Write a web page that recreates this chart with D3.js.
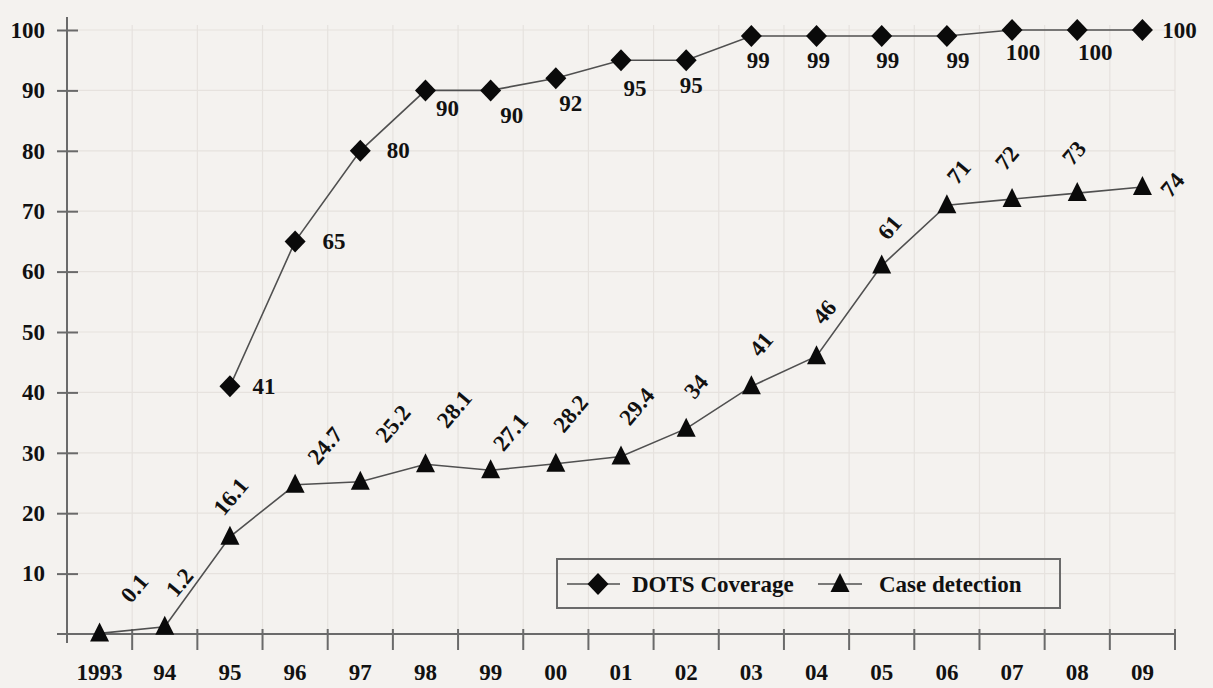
<!DOCTYPE html>
<html><head><meta charset="utf-8">
<script src="https://cdn.jsdelivr.net/npm/d3@7"></script>
<style>
html,body{margin:0;padding:0;background:#f4f2ef;}
svg{display:block;}
text{font-family:"Liberation Serif","Times New Roman",serif;font-weight:bold;fill:#111;}
</style></head>
<body>
<svg id="chart" width="1213" height="688"></svg>
<script>
const years = ["1993","94","95","96","97","98","99","00","01","02","03","04","05","06","07","08","09"];
const dotsCoverage = [null,null,41,65,80,90,90,92,95,95,99,99,99,99,100,100,100];
const caseDetection = [0.1,1.2,16.1,24.7,25.2,28.1,27.1,28.2,29.4,34,41,46,61,71,72,73,74];
const yTicks = [10,20,30,40,50,60,70,80,90,100];
const seriesNames = ["DOTS Coverage","Case detection"];
// label placement offsets (dx, dy) of label centre from the marker
const dotsLabelOffset = [null,null,[34,0],[39,0],[38,0],[22,18],[21,25],[15,25],[14,28],[5,25],[7,24],[2,24],[6,24],[11,24],[11,22],[18,22],[37,0]];
const caseLabelOffset = [[35,-45],[15,-44],[1,-40],[30,-39],[33,-58],[29,-55],[20,-38],[15,-50],[16,-50],[10,-42],[10,-42],[8,-44],[8,-38],[12,-33],[-5,-41],[-3,-40],[30,-2]];

const FS = "23px";
const svg = d3.select("#chart");
const x = d3.scaleBand().domain(years).range([67,1175]).paddingInner(0).paddingOuter(0);
const y = d3.scaleLinear().domain([0,100]).range([634,30]);
const cx = d => x(d) + x.bandwidth()/2;

// faint grid
const grid = svg.append("g").attr("stroke","#e6e2de").attr("stroke-width",1.2);
grid.selectAll(".h").data(yTicks).join("line")
  .attr("x1",67).attr("x2",1175).attr("y1",d=>y(d)).attr("y2",d=>y(d));
grid.selectAll(".v").data(years.slice(1).concat(["end"])).join("line")
  .attr("x1",(d,i)=> i<years.length-1 ? x(d) : 1175)
  .attr("x2",(d,i)=> i<years.length-1 ? x(d) : 1175)
  .attr("y1",y(100)-5).attr("y2",y(0));

// y axis
const yAxis = svg.append("g").attr("transform","translate(67,0)")
  .call(d3.axisLeft(y).tickValues(yTicks).tickSize(10).tickPadding(22));
yAxis.select(".domain").remove();
yAxis.selectAll(".tick line").attr("x1",-10).attr("x2",11).attr("stroke","#6a6a6a").attr("stroke-width",2);
yAxis.selectAll(".tick text").attr("x",-22).style("font-size",FS).style("font-family","Liberation Serif").style("font-weight","bold").attr("fill","#111");
svg.append("line").attr("x1",67).attr("x2",67).attr("y1",17).attr("y2",643)
  .attr("stroke","#6a6a6a").attr("stroke-width",2);

// x axis
const xAxis = svg.append("g").attr("transform","translate(0,634)")
  .call(d3.axisBottom(x).tickSize(0).tickPadding(30));
xAxis.select(".domain").remove();
xAxis.selectAll(".tick text").style("font-size",FS).style("font-family","Liberation Serif").style("font-weight","bold").attr("fill","#111");
svg.append("line").attr("x1",57).attr("x2",1175).attr("y1",634).attr("y2",634)
  .attr("stroke","#6a6a6a").attr("stroke-width",2);
svg.append("g").selectAll("line").data(years.slice(1).concat(["end"])).join("line")
  .attr("x1",(d,i)=> i<years.length-1 ? x(d) : 1175)
  .attr("x2",(d,i)=> i<years.length-1 ? x(d) : 1175)
  .attr("y1",629).attr("y2",650).attr("stroke","#6a6a6a").attr("stroke-width",2);

const diamond = "M0,-11L10.5,0L0,11L-10.5,0Z";
const triangle = "M0,-11L9.5,8L-9.5,8Z";

// lines
const dotsPts = years.map((d,i)=>({d,v:dotsCoverage[i],i})).filter(p=>p.v!=null);
const casePts = years.map((d,i)=>({d,v:caseDetection[i],i}));
const line = d3.line().x(p=>cx(p.d)).y(p=>y(p.v));
svg.append("path").attr("d",line(dotsPts)).attr("fill","none").attr("stroke","#505050").attr("stroke-width",1.6);
svg.append("path").attr("d",line(casePts)).attr("fill","none").attr("stroke","#505050").attr("stroke-width",1.6);

// markers
svg.append("g").selectAll("path").data(dotsPts).join("path")
  .attr("d",diamond).attr("transform",p=>`translate(${cx(p.d)},${y(p.v)})`).attr("fill","#0a0a0a");
svg.append("g").selectAll("path").data(casePts).join("path")
  .attr("d",triangle).attr("transform",p=>`translate(${cx(p.d)},${y(p.v)})`).attr("fill","#0a0a0a");

// labels
svg.append("g").selectAll("text").data(dotsPts).join("text")
  .attr("x",p=>cx(p.d)+dotsLabelOffset[p.i][0]).attr("y",p=>y(p.v)+dotsLabelOffset[p.i][1])
  .attr("text-anchor","middle").attr("dominant-baseline","central")
  .style("font-size",FS).text(p=>p.v);
svg.append("g").selectAll("text").data(casePts).join("text")
  .attr("transform",p=>`translate(${cx(p.d)+caseLabelOffset[p.i][0]},${y(p.v)+caseLabelOffset[p.i][1]}) rotate(-50)`)
  .attr("text-anchor","middle").attr("dominant-baseline","central")
  .style("font-size",FS).text(p=>p.v);

// legend
const lg = svg.append("g");
lg.append("rect").attr("x",557).attr("y",559).attr("width",503).attr("height",49)
  .attr("fill","none").attr("stroke","#6a6a6a").attr("stroke-width",2);
lg.append("line").attr("x1",567).attr("x2",620).attr("y1",584).attr("y2",584).attr("stroke","#505050").attr("stroke-width",1.6);
lg.append("path").attr("d",diamond).attr("transform","translate(598,584)").attr("fill","#0a0a0a");
lg.append("text").attr("x",632).attr("y",584).attr("dominant-baseline","central").style("font-size",FS).text(seriesNames[0]);
lg.append("line").attr("x1",818).attr("x2",862).attr("y1",584).attr("y2",584).attr("stroke","#505050").attr("stroke-width",1.6);
lg.append("path").attr("d",triangle).attr("transform","translate(840,584)").attr("fill","#0a0a0a");
lg.append("text").attr("x",879).attr("y",584).attr("dominant-baseline","central").style("font-size",FS).text(seriesNames[1]);
</script>
</body></html>
